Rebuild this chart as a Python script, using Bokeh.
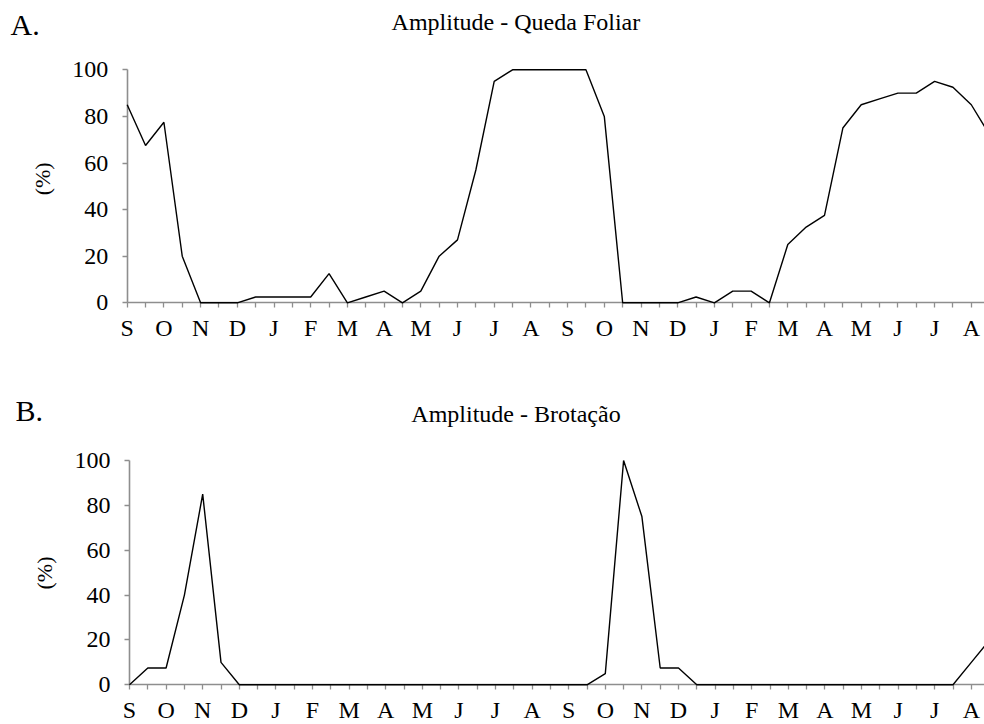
import math
from bokeh.plotting import figure
from bokeh.layouts import column
from bokeh.models import Range1d, FixedTicker, Label
from bokeh.embed import file_html
from bokeh.resources import INLINE

# ---- data -------------------------------------------------------------
month_labels = ["S", "O", "N", "D", "J", "F", "M", "A", "M", "J", "J", "A",
                "S", "O", "N", "D", "J", "F", "M", "A", "M", "J", "J", "A"]
# biweekly observations (2 per month), 48 points
periods = list(range(48))
queda_foliar = [85, 67.5, 77.5, 20, 0, 0, 0, 2.5, 2.5, 2.5, 2.5, 12.5,
                0, 2.5, 5, 0, 5, 20, 27, 57, 95, 100, 100, 100,
                100, 100, 80, 0, 0, 0, 0, 2.5, 0, 5, 5, 0,
                25, 32.5, 37.5, 75, 85, 87.5, 90, 90, 95, 92.5, 85, 72]
brotacao = [0, 7.5, 7.5, 40, 85, 10, 0, 0, 0, 0, 0, 0,
            0, 0, 0, 0, 0, 0, 0, 0, 0, 0, 0, 0,
            0, 0, 5, 100, 75, 7.5, 7.5, 0, 0, 0, 0, 0,
            0, 0, 0, 0, 0, 0, 0, 0, 0, 0, 10, 20]
y_ticks = [0, 20, 40, 60, 80, 100]
y_axis_title = "(%)"

FONT = "Liberation Serif"
AXIS_GRAY = "#8e8e8e"
W = 984


def panel(values, title_text, letter, height, x0_px, dx_px, y0_px, ppu,
          title_cx, title_y, letter_x, letter_y, ylab_x, ylab_y):
    """x0_px/y0_px: pixel position of data origin; dx_px: px per period;
    ppu: px per percentage unit. Frame covers the whole canvas, axes are
    drawn at the data origin."""
    x_start = -x0_px / dx_px
    x_end = (W - x0_px) / dx_px
    y_end = y0_px / ppu
    y_start = -(height - y0_px) / ppu
    p = figure(width=W, height=height, output_backend="svg",
               toolbar_location=None, tools="",
               x_range=Range1d(x_start, x_end),
               y_range=Range1d(y_start, y_end))
    p.min_border = 0
    p.min_border_left = 0
    p.min_border_right = 0
    p.min_border_top = 0
    p.min_border_bottom = 0
    p.outline_line_color = None
    p.background_fill_color = "white"
    p.border_fill_color = "white"
    p.xgrid.visible = False
    p.ygrid.visible = False

    r = p.line(periods, values, line_color="black", line_width=1.4)
    r.level = "overlay"

    def xd(px):
        return (px - x0_px) / dx_px

    def yd(py):
        return (y0_px - py) / ppu

    p.add_layout(Label(x=xd(title_cx), y=yd(title_y), text=title_text,
                       text_font=FONT, text_font_size="24px",
                       text_color="black", text_align="center",
                       text_baseline="alphabetic"))
    p.add_layout(Label(x=xd(letter_x), y=yd(letter_y), text=letter,
                       text_font=FONT, text_font_size="30px",
                       text_color="black", text_align="left",
                       text_baseline="alphabetic"))
    p.add_layout(Label(x=xd(ylab_x), y=yd(ylab_y), text=y_axis_title,
                       angle=math.pi / 2,
                       text_font=FONT, text_font_size="22px",
                       text_color="black", text_align="center",
                       text_baseline="middle"))

    xa = p.xaxis[0]
    xa.ticker = FixedTicker(ticks=periods)
    xa.major_label_overrides = {i: (month_labels[i // 2] if i % 2 == 0 else "")
                                for i in periods}
    xa.fixed_location = 0
    xa.bounds = (0, x_end)
    xa.axis_line_color = AXIS_GRAY
    xa.axis_line_width = 1.6
    xa.major_tick_line_color = AXIS_GRAY
    xa.major_tick_line_width = 1.3
    xa.major_tick_in = 0
    xa.major_tick_out = 5
    xa.minor_tick_line_color = None
    xa.major_label_text_font = FONT
    xa.major_label_text_font_size = "24px"
    xa.major_label_text_color = "black"
    xa.major_label_standoff = 7

    ya = p.yaxis[0]
    ya.ticker = FixedTicker(ticks=y_ticks)
    ya.fixed_location = 0
    ya.bounds = (0, 100)
    ya.axis_line_color = AXIS_GRAY
    ya.axis_line_width = 1.6
    ya.major_tick_line_color = AXIS_GRAY
    ya.major_tick_line_width = 1.3
    ya.major_tick_in = 0
    ya.major_tick_out = 5
    ya.minor_tick_line_color = None
    ya.major_label_text_font = FONT
    ya.major_label_text_font_size = "24px"
    ya.major_label_text_color = "black"
    ya.major_label_standoff = 14
    return p


# fig A occupies page rows 0..352
pA = panel(queda_foliar, "Amplitude - Queda Foliar", "A.", 352,
           126.7, 18.35, 302.3, 2.33, 515.4, 21.5, 10, 24, 42, 178.3)
# fig B occupies page rows 352..724 (targets given in fig coordinates)
pB = panel(brotacao, "Amplitude - Brotação", "B.", 372,
           129.0, 18.30, 684.3 - 352, 2.243, 515.5, 61.5, 15, 58.3,
           44.3, 572.5 - 352)

layout = column(pA, pB, spacing=0)
open("out.html", "w").write(file_html(layout, INLINE))
